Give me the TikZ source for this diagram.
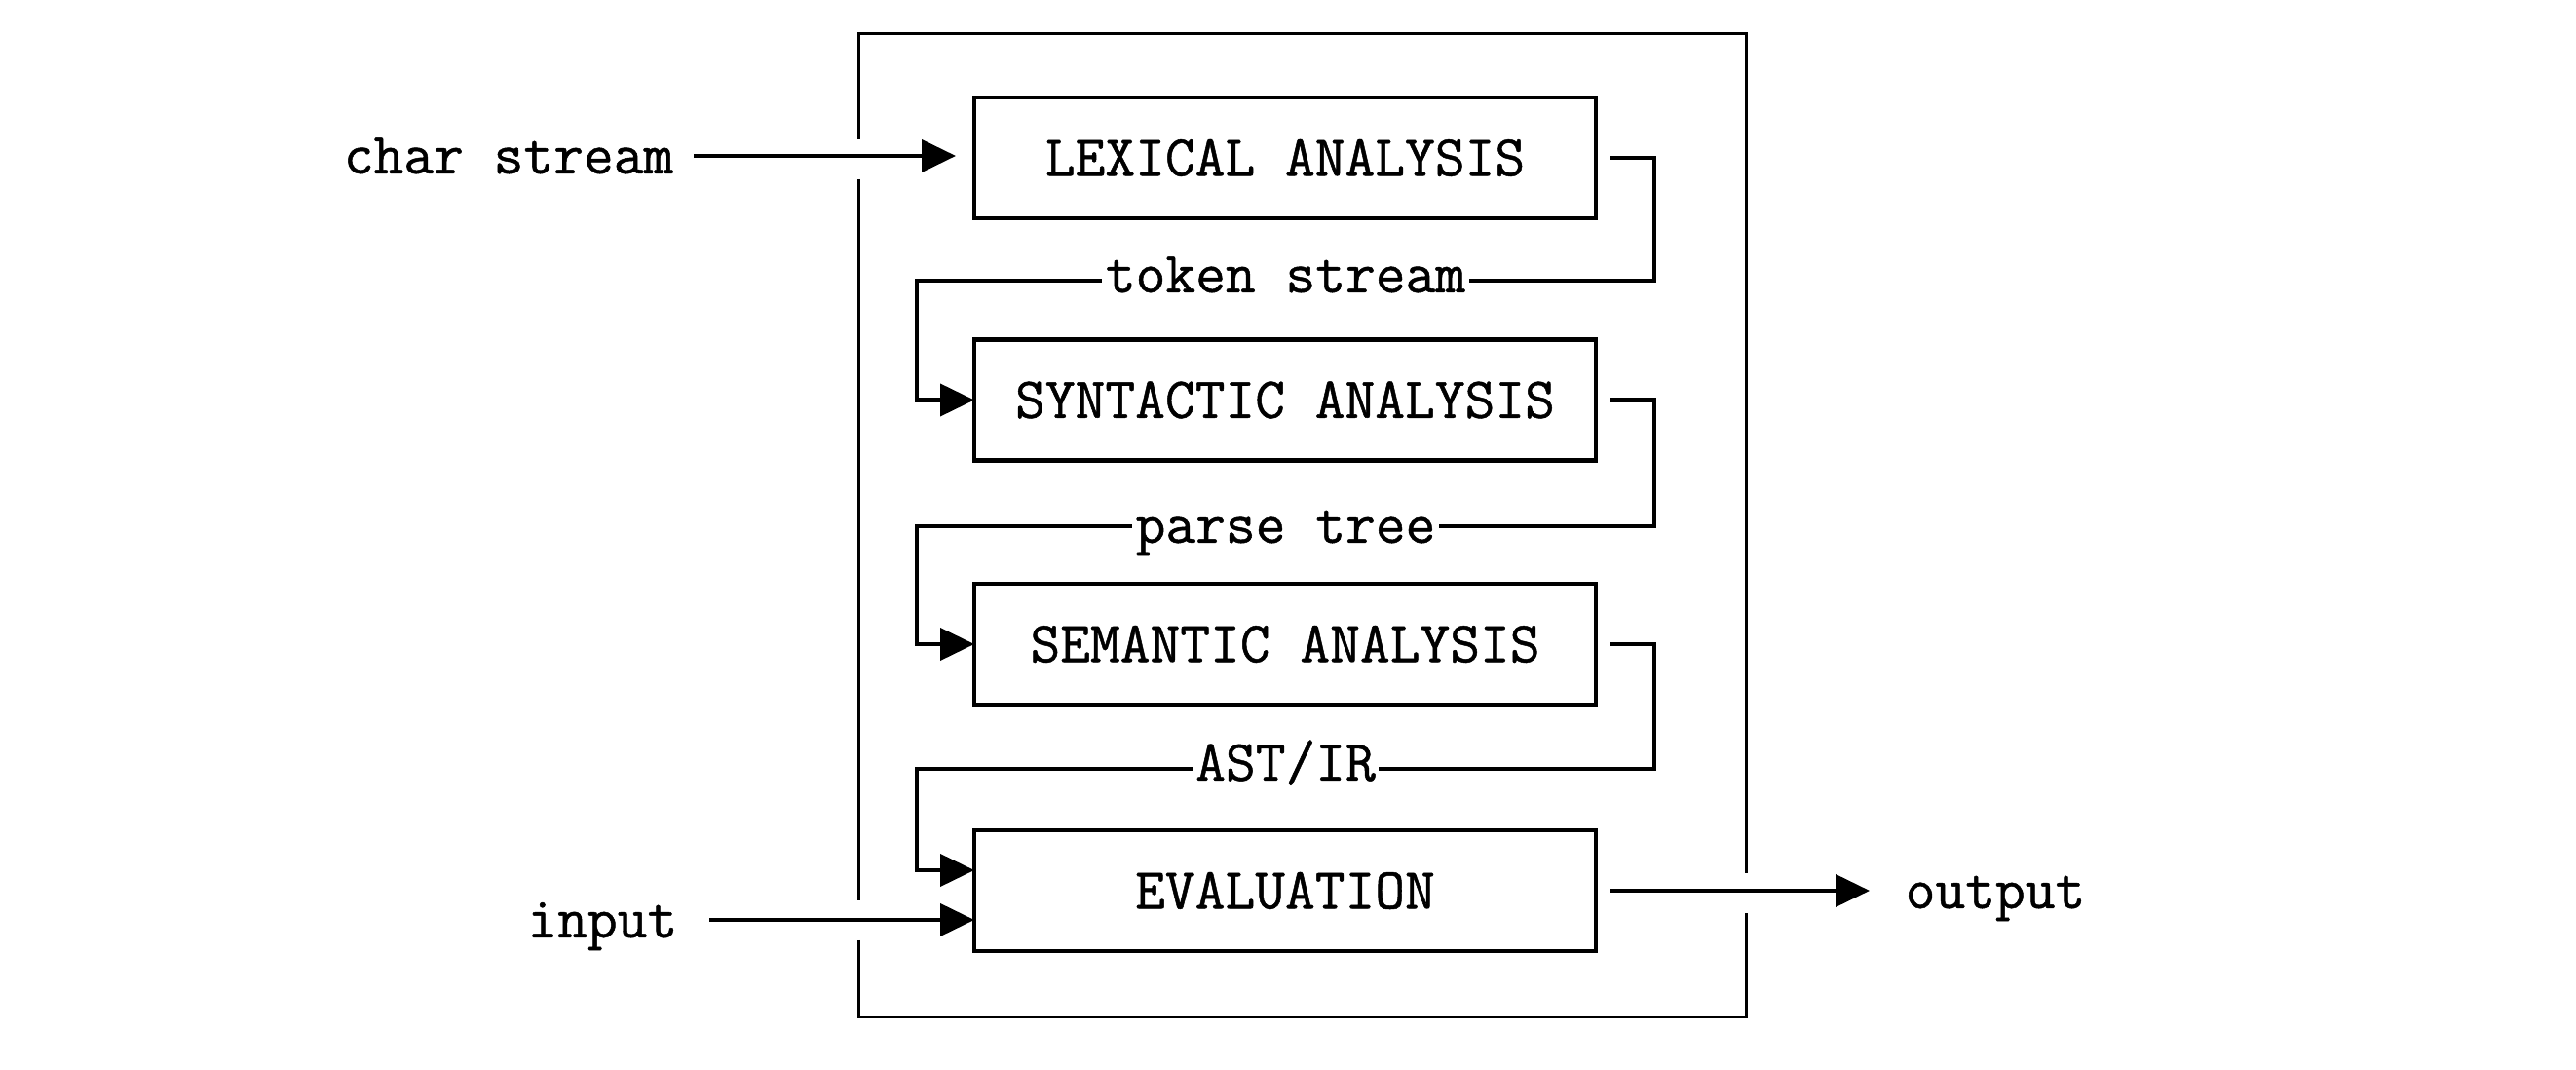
\documentclass[tikz,border=0pt]{standalone}
\usepackage{fontspec}
\setmonofont{Latin Modern Mono}[FakeBold=0.8]
\usetikzlibrary{arrows.meta}
\begin{document}
\begin{tikzpicture}[
  font=\fontsize{17}{20}\selectfont\ttfamily,
  stage/.style={draw, line width=1.25pt, minimum width=6.38cm, minimum height=1.24cm, inner sep=0pt, outer sep=0pt},
  conn/.style={line width=1.15pt, -{Triangle[length=0.35cm,width=0.33cm]}},
  frame/.style={line width=0.85pt},
  lbl/.style={fill=white, inner sep=1pt, text height=10.2pt, text depth=3.4pt},
  ext/.style={inner sep=0pt, text height=10.2pt, text depth=3.4pt}
]
\useasboundingbox (0,0) rectangle (26.44,-10.98);

% outer frame with gaps
\draw[frame] (8.81,-1.84) -- (8.81,-9.24);
\draw[frame] (8.81,-9.65) -- (8.81,-10.44) -- (17.92,-10.44) -- (17.92,-9.37);
\draw[frame] (17.92,-8.96) -- (17.92,-0.35) -- (8.81,-0.35) -- (8.81,-1.43);

% stages
\node[stage] (lex) at (13.19,-1.62) {LEXICAL ANALYSIS};
\node[stage] (syn) at (13.19,-4.105) {SYNTACTIC ANALYSIS};
\node[stage] (sem) at (13.19,-6.61) {SEMANTIC ANALYSIS};
\node[stage] (ev)  at (13.19,-9.14) {EVALUATION};

% external labels
\node[ext, anchor=east] (cs) at (6.92,-1.66) {char stream};
\node[ext, anchor=east] (in) at (6.96,-9.50) {input};
\node[ext, anchor=west] (out) at (19.55,-9.20) {output};

% inputs / outputs
\draw[conn] ([xshift=0.20cm,yshift=0.06cm]cs.east) -- ([xshift=-0.19cm,yshift=0.06cm]lex.west |- cs.east);
\draw[conn] ([xshift=0.32cm,yshift=0.06cm]in.east) -- ([yshift=0.06cm]ev.west |- in.east);
\draw[conn] ([xshift=0.14cm]ev.east) -- ([xshift=-0.36cm]out.west |- ev.east);

% pipeline connectors
\draw[conn] ([xshift=0.14cm]lex.east) -| (16.98,-2.88)
  -- node[lbl]{token stream} (9.41,-2.88) |- (syn.west);
\draw[conn] ([xshift=0.14cm]syn.east) -| (16.98,-5.40)
  -- node[lbl, yshift=-0.05cm]{parse tree} (9.41,-5.40) |- (sem.west);
\draw[conn] ([xshift=0.14cm]sem.east) -| (16.98,-7.89)
  -- node[lbl]{AST/IR} (9.41,-7.89) |- ([yshift=0.21cm]ev.west);
\end{tikzpicture}
\end{document}
